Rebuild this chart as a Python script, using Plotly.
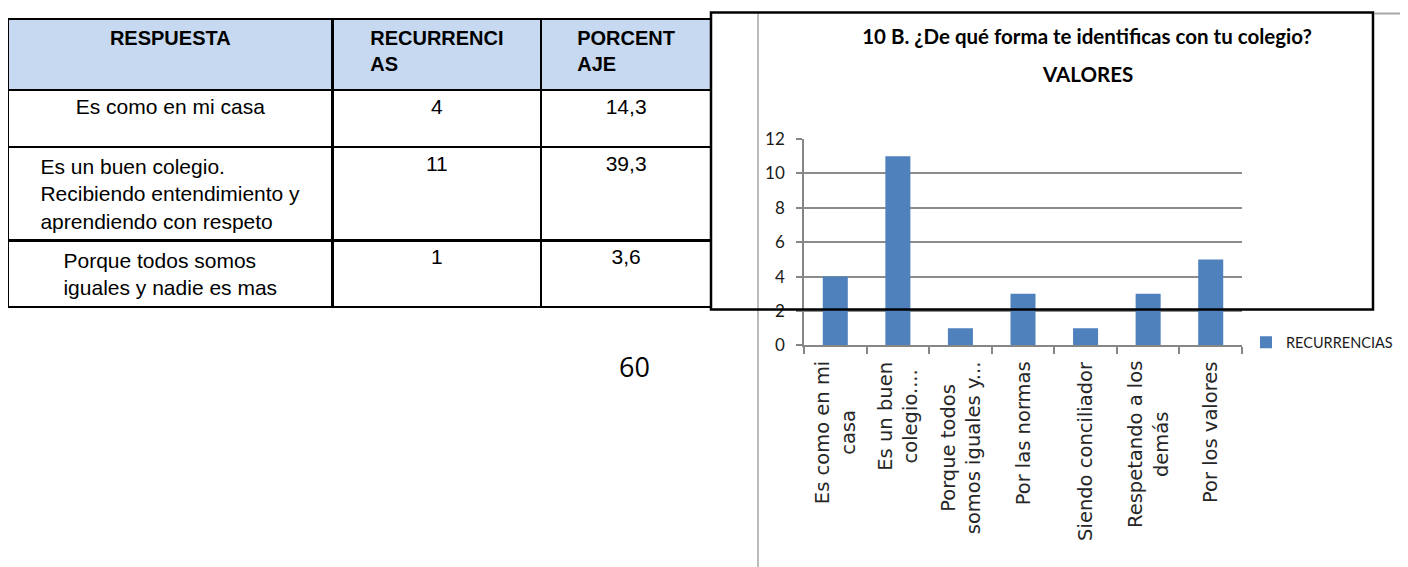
import plotly.graph_objects as go

W, H = 1408, 567

# ---- table data ----
tabla_encabezados = ["RESPUESTA", "RECURRENCI<br>AS", "PORCENT<br>AJE"]
tabla_respuestas = [
    "Es como en mi casa",
    "Es un buen colegio.<br>Recibiendo entendimiento y<br>aprendiendo con respeto",
    "Porque todos somos<br>iguales y nadie es mas",
]
tabla_recurrencias = ["4", "11", "1"]
tabla_porcentaje = ["14,3", "39,3", "3,6"]

# ---- chart data ----
titulo = "10 B. ¿De qué forma te identificas con tu colegio?"
subtitulo = "VALORES"
categorias = [
    "Es como en mi casa",
    "Es un buen colegio....",
    "Porque todos somos iguales y...",
    "Por las normas",
    "Siendo conciliador",
    "Respetando a los demás",
    "Por los valores",
]
etiquetas = [
    "Es como en mi<br>casa",
    "Es un buen<br>colegio....",
    "Porque todos<br>somos iguales y...",
    "Por las normas",
    "Siendo conciliador",
    "Respetando a los<br>demás",
    "Por los valores",
]
recurrencias = [4, 11, 1, 3, 1, 3, 5]
serie = "RECURRENCIAS"
pagina = "60"

# screen-pixel -> paper helpers (page offset / plot area as rendered)
OX, OY, SY = 8.0, 18.6, 547.7


def px(x):
    return (x - OX) / W


def py(y):
    return 1 - (y - OY) / SY


CAL = "Lato, Roboto, sans-serif"

fig = go.Figure()

fig.add_trace(go.Table(
    domain=dict(x=[max(px(7), 0), px(711)], y=[py(320), 1]),
    columnwidth=[325, 209, 170],
    header=dict(
        values=["<b>%s</b>" % h for h in tabla_encabezados],
        fill_color="#C6D9F1",
        line=dict(color="black", width=2.5),
        align="center",
        height=71,
        font=dict(family="Liberation Sans, Arial, sans-serif", size=20, color="black"),
    ),
    cells=dict(
        values=[tabla_respuestas, tabla_recurrencias, tabla_porcentaje],
        fill_color="white",
        line=dict(color="black", width=2.5),
        align="center",
        height=57,
        font=dict(family="Liberation Sans, Arial, sans-serif", size=21, color="black"),
    ),
))

fig.add_trace(go.Bar(
    x=categorias, y=recurrencias, name=serie,
    marker=dict(color="#4F81BD", line=dict(width=0)),
    width=0.4, showlegend=True,
))

for cat, lab in zip(categorias, etiquetas):
    fig.add_annotation(
        x=cat, xref="x", y=py(360), yref="paper",
        text=lab, showarrow=False, textangle=-90,
        xanchor="center", yanchor="top", align="center",
        font=dict(family="DejaVu Sans, sans-serif", size=19.5, color="#262626"),
    )

fig.add_annotation(
    x=px(1087), y=py(74), xref="paper", yref="paper",
    text="<b>%s</b>" % subtitulo, showarrow=False,
    xanchor="center", yanchor="middle",
    font=dict(family=CAL, size=20.5, color="black"),
)
fig.add_annotation(
    x=px(634), y=py(367), xref="paper", yref="paper",
    text=pagina, showarrow=False, xanchor="center", yanchor="middle",
    font=dict(family="Open Sans, sans-serif", size=27, color="black"),
)

# page frame / rules
fig.add_shape(type="rect", xref="paper", yref="paper",
              x0=px(711), x1=px(1373), y0=py(310), y1=py(12),
              line=dict(color="black", width=2.5), layer="above")
fig.add_shape(type="line", xref="paper", yref="paper",
              x0=px(758), x1=px(758), y0=py(580), y1=py(13),
              line=dict(color="#A6A6A6", width=1.5), layer="below")
fig.add_shape(type="line", xref="paper", yref="paper",
              x0=px(1374), x1=px(1420), y0=py(13), y1=py(13),
              line=dict(color="#A6A6A6", width=2), layer="above")

fig.update_layout(
    width=W, height=H,
    margin=dict(l=0, r=0, t=0, b=0),
    paper_bgcolor="white", plot_bgcolor="white",
    title=dict(
        text="<b>%s</b>" % titulo, x=px(1087), xanchor="center",
        y=py(36), yanchor="middle", yref="paper",
        font=dict(family=CAL, size=20.5, color="black"),
    ),
    xaxis=dict(
        domain=[px(804), px(1242)],
        showticklabels=False, ticks="outside", tickson="boundaries",
        ticklen=7, tickcolor="#868686", tickwidth=1.5,
        showline=True, linecolor="#868686", linewidth=1.5,
        showgrid=False, zeroline=False, anchor="y",
    ),
    yaxis=dict(
        domain=[py(346), py(139)], range=[0, 12], dtick=2,
        ticks="outside", ticklen=6, tickcolor="#868686", tickwidth=1.5,
        showline=True, linecolor="#868686", linewidth=1.5,
        showgrid=True, gridcolor="#8C8C8C", gridwidth=1.5,
        zeroline=False, ticklabelstandoff=8,
        tickfont=dict(family=CAL, size=17, color="#1a1a1a"),
    ),
    showlegend=True,
    legend=dict(
        x=px(1246), y=py(343), xanchor="left", yanchor="middle",
        bgcolor="rgba(0,0,0,0)",
        font=dict(family=CAL, size=14.5, color="#1a1a1a"),
    ),
)

fig.write_html("out.html")
